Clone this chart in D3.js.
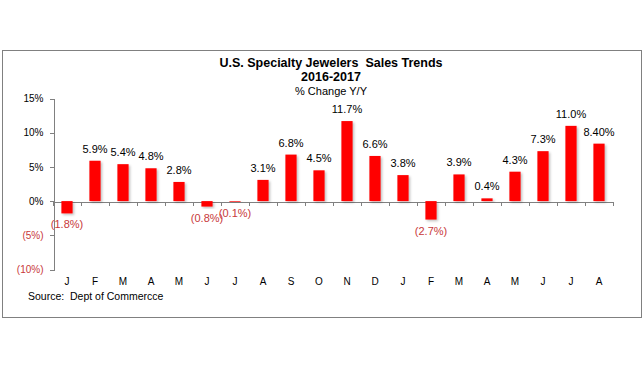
<!DOCTYPE html>
<head>
  <meta charset="utf-8">
  <script src="https://cdn.jsdelivr.net/npm/d3@7"></script>
  <style>
    body { margin: 0; background: #fff; }
    text { font-family: "Liberation Sans", Arial, sans-serif; white-space: pre; }
    text.title { font-size: 12.5px; font-weight: 700; fill: #000; }
    text.subTitle { font-size: 11px; fill: #000; }
    text.valueLabel { font-size: 11px; }
    .yAxis .tick text, .xAxis .tick text { font-size: 10px; fill: #000; }
    .tick line, path.domain { stroke: #808080; shape-rendering: crispEdges; }
    text.source { font-size: 10.5px; fill: #000; }
  </style>
</head>
<body>
  <svg width="643" height="367"></svg>
  <script>
    // data
    const months = ["J", "F", "M", "A", "M", "J", "J", "A", "S", "O", "N", "D",
                    "J", "F", "M", "A", "M", "J", "J", "A"];
    const values = [-1.8, 5.9, 5.4, 4.8, 2.8, -0.8, -0.1, 3.1, 6.8, 4.5, 11.7, 6.6,
                    3.8, -2.7, 3.9, 0.4, 4.3, 7.3, 11.0, 8.40];
    const valueLabels = ["(1.8%)", "5.9%", "5.4%", "4.8%", "2.8%", "(0.8%)", "(0.1%)", "3.1%",
                         "6.8%", "4.5%", "11.7%", "6.6%", "3.8%", "(2.7%)", "3.9%", "0.4%",
                         "4.3%", "7.3%", "11.0%", "8.40%"];
    const yTicks = [-10, -5, 0, 5, 10, 15];

    const svg = d3.select("svg");
    const data = months.map((m, i) => ({ key: i, month: m, value: values[i], label: valueLabels[i] }));

    // frame
    svg.append("rect")
      .attr("x", 2.5).attr("y", 50.5)
      .attr("width", 639).attr("height", 267)
      .attr("fill", "none").attr("stroke", "#808080");

    // titles
    svg.append("text").attr("class", "title")
      .attr("x", 331).attr("y", 67).attr("text-anchor", "middle")
      .text("U.S. Specialty Jewelers  Sales Trends");
    svg.append("text").attr("class", "title")
      .attr("x", 331).attr("y", 81).attr("text-anchor", "middle")
      .text("2016-2017");
    svg.append("text").attr("class", "subTitle")
      .attr("x", 331).attr("y", 95).attr("text-anchor", "middle")
      .text("% Change Y/Y");

    const x = d3.scaleBand()
      .domain(data.map(d => d.key))
      .range([53, 613])
      .paddingInner(0.6)
      .paddingOuter(0.3);

    const y = d3.scaleLinear()
      .domain([-10, 15])
      .range([269.5, 98.5]);

    // drop shadow for the bars
    const defs = svg.append("defs");
    defs.append("filter").attr("id", "shadow")
      .attr("x", "-20%").attr("y", "-20%").attr("width", "160%").attr("height", "160%")
      .append("feDropShadow")
      .attr("dx", 1.5).attr("dy", 1.5).attr("stdDeviation", 1)
      .attr("flood-color", "#000").attr("flood-opacity", 0.25);

    // y axis
    const yAxis = d3.axisLeft(y)
      .tickValues(yTicks)
      .tickSize(4)
      .tickPadding(6)
      .tickFormat(d => d < 0 ? "(" + (-d) + "%)" : d + "%");

    svg.append("g")
      .attr("class", "axis yAxis")
      .attr("transform", "translate(53.5,0)")
      .call(yAxis)
      .call(g => g.selectAll(".tick text").style("fill", d => d < 0 ? "#c8383a" : "#000"));

    // x axis on the zero line, ticks between categories (drawn under the bars)
    const xLin = d3.scaleLinear().domain([0, months.length]).range([53, 613]);
    svg.append("g")
      .attr("class", "axis")
      .attr("transform", `translate(0,${Math.round(y(0)) + 0.5})`)
      .call(d3.axisBottom(xLin).tickValues(d3.range(0, months.length + 1)).tickSize(4).tickFormat(""));

    // bars
    svg.selectAll("rect.bar")
      .data(data)
      .enter()
      .append("rect")
      .attr("class", "bar")
      .attr("x", d => x(d.key))
      .attr("y", d => y(Math.max(0, d.value)))
      .attr("width", x.bandwidth())
      .attr("height", d => Math.abs(y(d.value) - y(0)))
      .attr("fill", "#ff0000")
      .attr("filter", "url(#shadow)");

    // month labels
    svg.append("g")
      .attr("class", "xAxis")
      .selectAll("text")
      .data(data)
      .enter()
      .append("text")
      .attr("x", d => x(d.key) + x.bandwidth() / 2)
      .attr("y", 285)
      .attr("text-anchor", "middle")
      .style("font-size", "10px")
      .text(d => d.month);

    // value labels
    svg.selectAll("text.valueLabel")
      .data(data)
      .enter()
      .append("text")
      .attr("class", "valueLabel")
      .attr("x", d => x(d.key) + x.bandwidth() / 2)
      .attr("y", d => d.value < 0 ? y(d.value) + 15 : y(d.value) - 8)
      .attr("text-anchor", "middle")
      .style("fill", d => d.value < 0 ? "#c8383a" : "#000")
      .text(d => d.label);

    svg.append("text").attr("class", "source")
      .attr("x", 28).attr("y", 300)
      .text("Source:  Dept of Commercce");
  </script>
</body>
